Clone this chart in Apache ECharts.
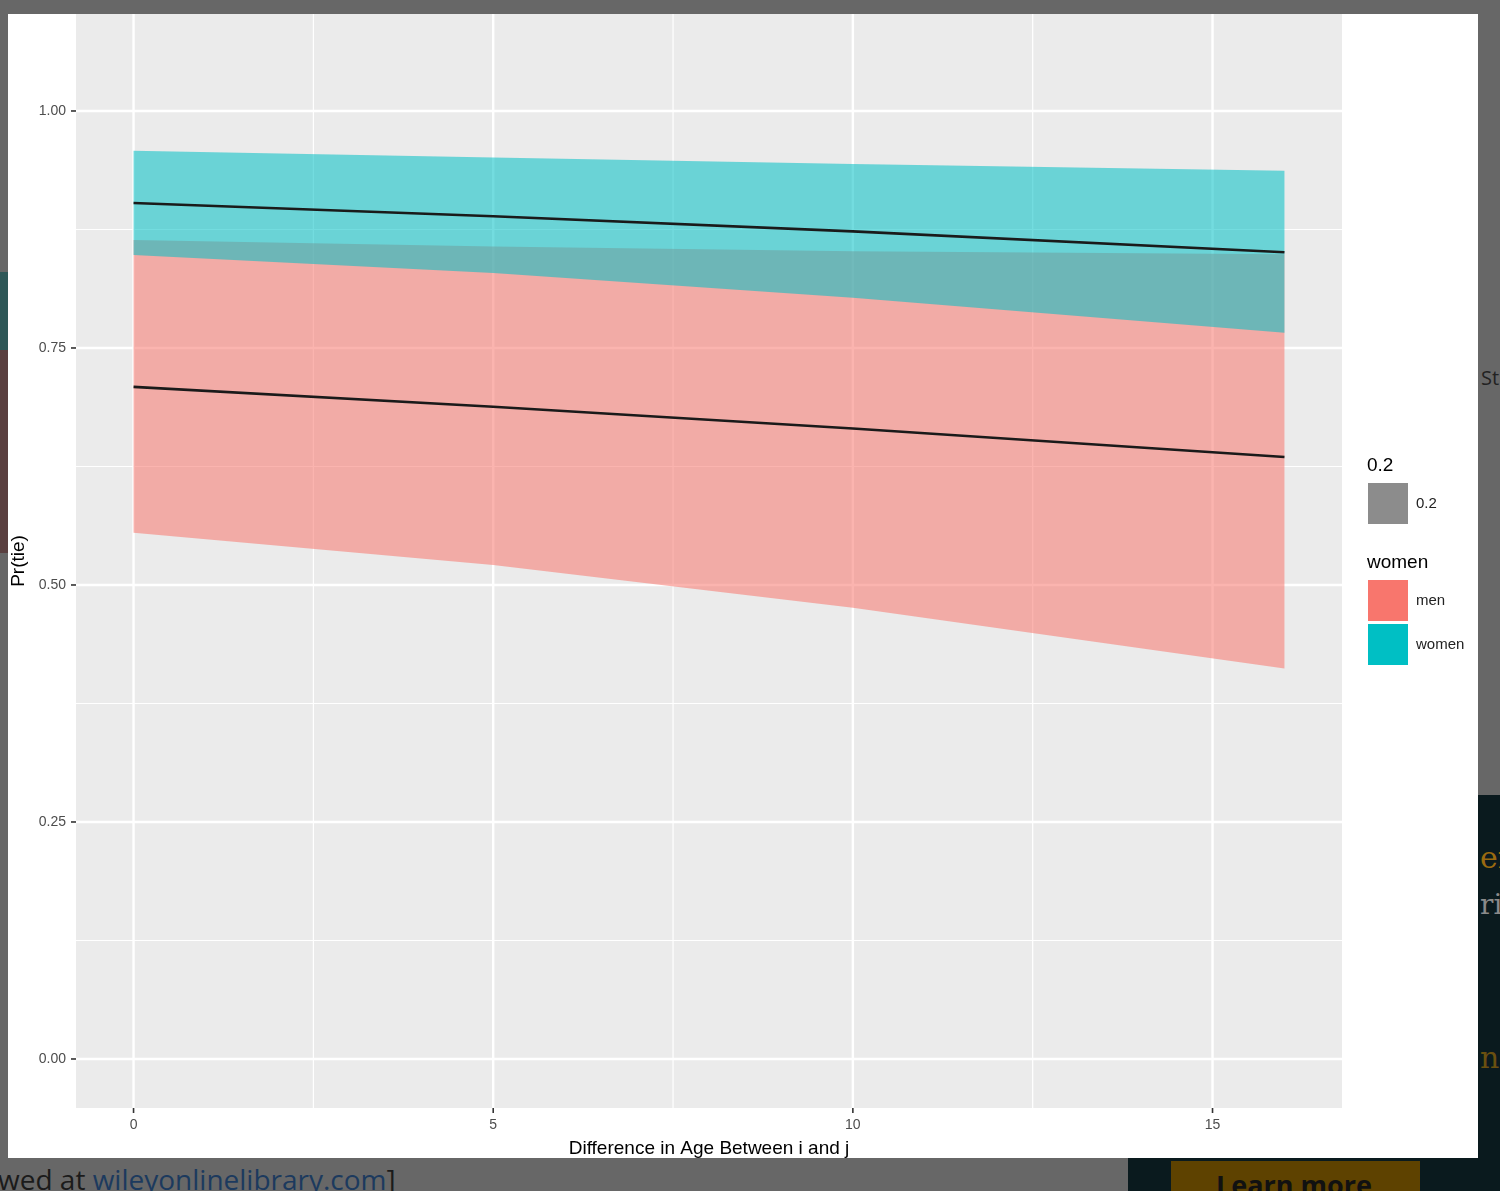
<!DOCTYPE html>
<html>
<head>
<meta charset="utf-8">
<script src="https://cdn.jsdelivr.net/npm/echarts@6/dist/echarts.min.js"></script>
<style>
html,body{margin:0;padding:0;width:1500px;height:1191px;overflow:hidden;background:#676767;}
.abs{position:absolute;}
#chart{position:absolute;left:0;top:0;width:1500px;height:1191px;}
</style>
</head>
<body>
<div class="abs" style="left:0;top:272px;width:8px;height:78px;background:#2e5757;"></div>
<div class="abs" style="left:0;top:350px;width:8px;height:203px;background:#5a4040;"></div>
<div class="abs" style="left:1128px;top:795px;width:372px;height:396px;background:#0a1a1e;"></div>
<div class="abs" style="left:1171px;top:1161px;width:249px;height:40px;background:#5e4200;"></div>
<div class="abs" style="left:1216px;top:1166px;font:bold 27px 'Open Sans',sans-serif;color:#111;">Learn more</div>
<div class="abs" style="left:1480px;top:840px;font:30px 'DejaVu Serif',serif;color:#9a6a10;">er</div>
<div class="abs" style="left:1480px;top:888px;font:28px 'DejaVu Serif',serif;color:#8a8a8a;">ri</div>
<div class="abs" style="left:1480px;top:1040px;font:30px 'DejaVu Serif',serif;color:#6a5010;">n</div>
<div class="abs" style="left:1481px;top:364px;font:20px 'Open Sans',sans-serif;color:#222;">St</div>
<div class="abs" style="left:-2px;top:1160px;font:28px 'Open Sans',sans-serif;color:#1b1b1b;white-space:nowrap;">wed at <span style="color:#1c3a5e;">wileyonlinelibrary.com</span>]</div>
<div class="abs" style="left:8px;top:14px;width:1470px;height:1144px;background:#ffffff;"></div>
<div id="chart"></div>
<script>
// ---- data ----
var xs = [0, 5, 10, 16];
var menFit   = [0.709, 0.688, 0.665, 0.635];
var menLo    = [0.555, 0.521, 0.476, 0.412];
var menHi    = [0.864, 0.857, 0.852, 0.849];
var womenFit = [0.903, 0.889, 0.873, 0.851];
var womenLo  = [0.848, 0.829, 0.803, 0.766];
var womenHi  = [0.958, 0.951, 0.944, 0.937];
var xTicks = [0, 5, 10, 15];
var xMinor = [2.5, 7.5, 12.5];
var yTicks = [0, 0.25, 0.5, 0.75, 1.0];
var yMinor = [0.125, 0.375, 0.625, 0.875];

var X_MIN = -0.8, X_MAX = 16.8, Y_MIN = -0.0517, Y_MAX = 1.1023;
var FONT = "'Liberation Sans', Arial, sans-serif";

function bandRender(lo, hi, fill) {
  return function (params, api) {
    if (params.dataIndex !== 0) return;
    var pts = [];
    for (var i = 0; i < xs.length; i++) pts.push(api.coord([xs[i], hi[i]]));
    for (var j = xs.length - 1; j >= 0; j--) pts.push(api.coord([xs[j], lo[j]]));
    return { type: 'polygon', shape: { points: pts }, style: { fill: fill } };
  };
}
function gridRender(vals, horizontal, width) {
  return function (params, api) {
    var v = vals[params.dataIndex];
    var p1, p2;
    if (horizontal) { p1 = api.coord([X_MIN, v]); p2 = api.coord([X_MAX, v]); }
    else { p1 = api.coord([v, Y_MIN]); p2 = api.coord([v, Y_MAX]); }
    return { type: 'line', shape: { x1: p1[0], y1: p1[1], x2: p2[0], y2: p2[1] },
             style: { stroke: '#ffffff', lineWidth: width } };
  };
}
function gridSeries(vals, horizontal, width) {
  return {
    type: 'custom', silent: true, z: 1,
    renderItem: gridRender(vals, horizontal, width),
    data: vals.map(function (v) { return horizontal ? [0, v] : [v, 0]; })
  };
}
function tickSeries(vals, horizontal) {
  return {
    type: 'custom', silent: true, z: 1, clip: false,
    renderItem: function (params, api) {
      var v = vals[params.dataIndex];
      var p, shape;
      if (horizontal) { p = api.coord([X_MIN, v]); shape = { x1: p[0] - 5, y1: p[1], x2: p[0], y2: p[1] }; }
      else { p = api.coord([v, Y_MIN]); shape = { x1: p[0], y1: p[1], x2: p[0], y2: p[1] + 5 }; }
      return { type: 'line', shape: shape, style: { stroke: '#333333', lineWidth: 1.6 } };
    },
    data: vals.map(function (v) { return horizontal ? [0, v] : [v, 0]; })
  };
}

var chart = echarts.init(document.getElementById('chart'), null, { renderer: 'canvas' });
chart.setOption({
  backgroundColor: 'transparent',
  animation: false,
  textStyle: { fontFamily: FONT },
  grid: { left: 76, top: 14, width: 1266, height: 1094, show: true,
          backgroundColor: '#EBEBEB', borderWidth: 0 },
  xAxis: {
    type: 'value', min: X_MIN, max: X_MAX,
    name: 'Difference in Age Between i and j', nameLocation: 'middle', nameGap: 31,
    nameTextStyle: { fontSize: 19, color: '#000', fontFamily: FONT },
    axisLine: { show: false },
    splitLine: { show: false },
    axisTick: { show: false },
    axisLabel: { customValues: xTicks, fontSize: 14, color: '#4d4d4d', margin: 10, fontFamily: FONT }
  },
  yAxis: {
    type: 'value', min: Y_MIN, max: Y_MAX,
    name: 'Pr(tie)', nameLocation: 'middle', nameGap: 48,
    nameTextStyle: { fontSize: 19, color: '#000', fontFamily: FONT },
    axisLine: { show: false },
    splitLine: { show: false },
    axisTick: { show: false },
    axisLabel: { customValues: yTicks, fontSize: 14, color: '#4d4d4d', margin: 10, fontFamily: FONT,
                 formatter: function (v) { return v.toFixed(2); } }
  },
  legend: [
    { data: [{ name: '0.2', itemStyle: { color: '#8c8c8c' } }], left: 1368, top: 483, orient: 'vertical',
      padding: 0, icon: 'rect', itemWidth: 40, itemHeight: 41, selectedMode: false,
      textStyle: { fontSize: 15, color: '#222', fontFamily: FONT, padding: [0, 0, 0, 3] } },
    { data: [{ name: 'men', itemStyle: { color: '#F8766D', opacity: 1 } },
             { name: 'women', itemStyle: { color: '#00BFC4', opacity: 1 } }],
      left: 1368, top: 580, orient: 'vertical', padding: 0, icon: 'rect', itemWidth: 40, itemHeight: 41, itemGap: 3,
      selectedMode: false, textStyle: { fontSize: 15, color: '#222', fontFamily: FONT, padding: [0, 0, 0, 3] } }
  ],
  graphic: [
    { type: 'text', left: 1367, top: 456, style: { text: '0.2', fill: '#000', font: '19px ' + FONT } },
    { type: 'text', left: 1367, top: 553, style: { text: 'women', fill: '#000', font: '19px ' + FONT } }
  ],
  series: [
    gridSeries(yMinor, true, 1.2),
    gridSeries(xMinor, false, 1.2),
    gridSeries(yTicks, true, 2.4),
    gridSeries(xTicks, false, 2.4),
    tickSeries(yTicks, true),
    tickSeries(xTicks, false),
    { name: '0.2', type: 'line', data: [], itemStyle: { color: '#8c8c8c' }, lineStyle: { color: '#8c8c8c' } },
    { name: 'men', type: 'custom', z: 2, silent: true, itemStyle: { color: '#F8766D' },
      renderItem: bandRender(menLo, menHi, 'rgba(248,118,109,0.55)'),
      data: xs.map(function (x, i) { return [x, menLo[i], menHi[i]]; }), encode: { x: 0, y: [1, 2] } },
    { name: 'women', type: 'custom', z: 2, silent: true, itemStyle: { color: '#00BFC4' },
      renderItem: bandRender(womenLo, womenHi, 'rgba(0,191,196,0.55)'),
      data: xs.map(function (x, i) { return [x, womenLo[i], womenHi[i]]; }), encode: { x: 0, y: [1, 2] } },
    { name: 'menFit', type: 'line', z: 3, symbol: 'none', silent: true,
      lineStyle: { color: '#1a1a1a', width: 2.6 },
      data: xs.map(function (x, i) { return [x, menFit[i]]; }) },
    { name: 'womenFit', type: 'line', z: 3, symbol: 'none', silent: true,
      lineStyle: { color: '#1a1a1a', width: 2.6 },
      data: xs.map(function (x, i) { return [x, womenFit[i]]; }) }
  ]
});
</script>
</body>
</html>
